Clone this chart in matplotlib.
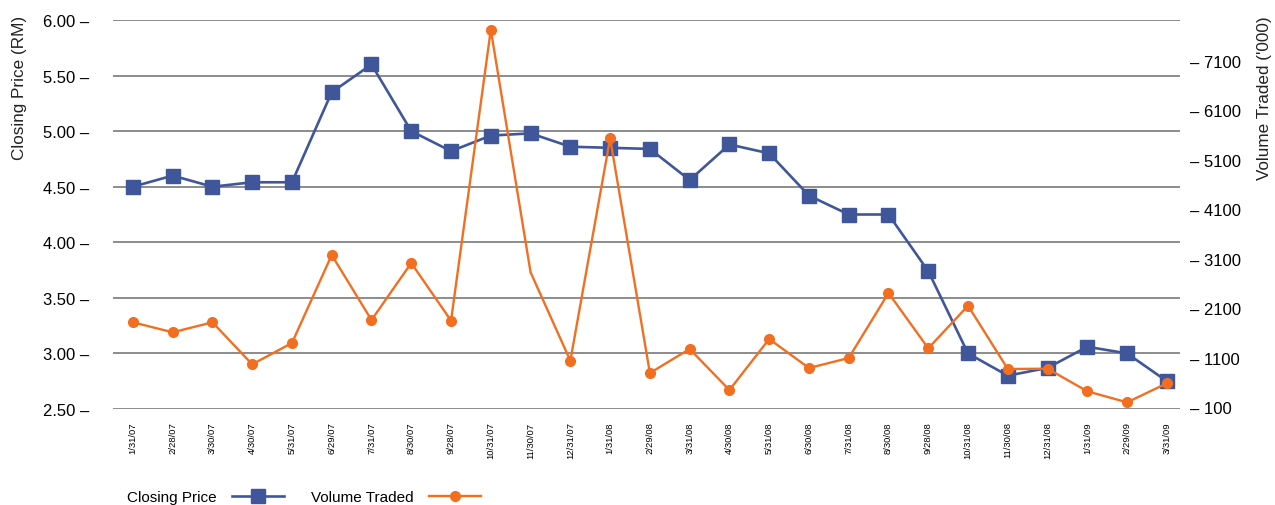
import matplotlib
matplotlib.use('Agg')
import matplotlib.pyplot as plt
from matplotlib.lines import Line2D

plt.rcParams['font.family'] = ['Liberation Sans', 'DejaVu Sans']

# data
dates = ['1/31/07', '2/28/07', '3/30/07', '4/30/07', '5/31/07', '6/29/07', '7/31/07',
         '8/30/07', '9/28/07', '10/31/07', '11/30/07', '12/31/07', '1/31/08', '2/29/08',
         '3/31/08', '4/30/08', '5/31/08', '6/30/08', '7/31/08', '8/30/08', '9/28/08',
         '10/31/08', '11/30/08', '12/31/08', '1/31/09', '2/29/09', '3/31/09']
closing_price = [4.50, 4.60, 4.50, 4.54, 4.54, 5.35, 5.60, 5.00, 4.82, 4.96, 4.98, 4.86,
                 4.85, 4.84, 4.56, 4.88, 4.80, 4.42, 4.25, 4.25, 3.74, 3.00, 2.80, 2.87,
                 3.06, 3.00, 2.75]
volume = [1817, 1615, 1817, 968, 1399, 3176, 1863, 3015, 1850, 7727, 2827, 1041,
          5534, 793, 1278, 449, 1480, 894, 1096, 2409, 1292, 2152, 874, 880,
          423, 200, 585]
price_ticks = [2.5, 3.0, 3.5, 4.0, 4.5, 5.0, 5.5, 6.0]
volume_ticks = [100, 1100, 2100, 3100, 4100, 5100, 6100, 7100]

blue = '#3f569a'
orange = '#f26f22'

fig = plt.figure(figsize=(12.75, 5.06), dpi=100)
ax = fig.add_axes([113 / 1275, 1 - 410 / 506, (1180 - 113) / 1275, (410 - 21) / 506])
x = list(range(len(dates)))

ax.plot(x, closing_price, color=blue, lw=1.9, marker='s', ms=10.5, zorder=3)
ax.set_ylim(2.5, 6.0)
ax.set_xlim(-0.5, 26.33)
ax.set_yticks(price_ticks)
ax.set_yticklabels([f'{t:.2f} \u2013' for t in price_ticks], fontsize=12)
ax.tick_params(axis='y', length=0, pad=17)
ax.set_xticks(x)
ax.set_xticklabels(dates, rotation=90, fontsize=6.8, va='top')
ax.tick_params(axis='x', length=0, pad=9)
for t in price_ticks:
    ax.axhline(t, color='#8c8c8c', lw=1.4, zorder=1)
for s in ax.spines.values():
    s.set_visible(False)

ax2 = ax.twinx()
# 11/30/07 has no marker in the original
marks = [i for i in x if i != 10]
ax2.plot(x, volume, color=orange, lw=1.7, marker='o', ms=7, markevery=marks, zorder=3)
ax2.set_ylim(66, 7923)
ax2.set_yticks(volume_ticks)
ax2.set_yticklabels([f'\u2013 {t}' for t in volume_ticks], fontsize=12)
ax2.tick_params(axis='y', length=0, pad=7)
for s in ax2.spines.values():
    s.set_visible(False)

fig.text(20 / 1275, 1 - 88 / 506, 'Closing Price (RM)', rotation=90,
         ha='center', va='center', fontsize=12.3, color='#222222')
fig.text(1265 / 1275, 1 - 98 / 506, "Volume Traded ('000)", rotation=90,
         ha='center', va='center', fontsize=12.3, color='#222222')

handles = [Line2D([], [], color=blue, lw=1.9, marker='s', ms=10.5),
           Line2D([], [], color=orange, lw=1.7, marker='o', ms=7)]
fig.legend(handles, ['Closing Price', 'Volume Traded'], loc='center left',
           bbox_to_anchor=(127 / 1275, 1 - 498 / 506), ncol=2, frameon=False,
           markerfirst=False, fontsize=11, handlelength=3.4, handletextpad=1.0,
           columnspacing=1.8, borderpad=0, borderaxespad=0)

fig.savefig('out.png', dpi=100)
